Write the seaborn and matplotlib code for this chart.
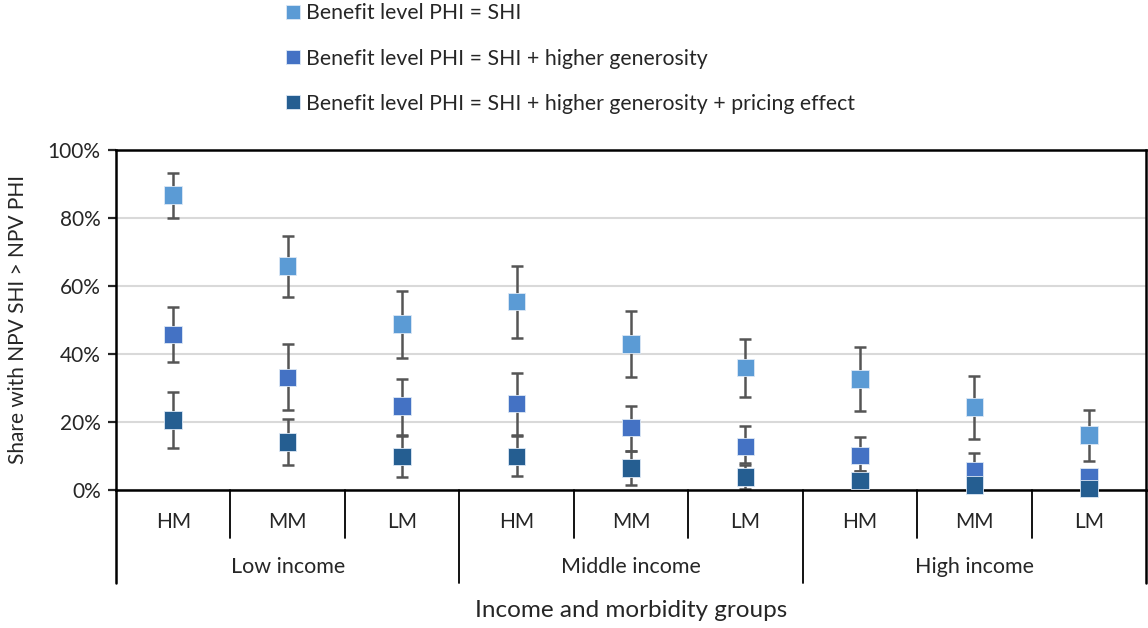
import matplotlib
matplotlib.use("Agg")
import matplotlib.pyplot as plt
import seaborn as sns
import numpy as np
import pandas as pd
from matplotlib.ticker import PercentFormatter

# 数据（从图中读取，单位：%）
income_groups = ["Low income", "Middle income", "High income"]
morbidity_groups = ["HM", "MM", "LM"]
series_names = [
    "Benefit level PHI = SHI",
    "Benefit level PHI = SHI + higher generosity",
    "Benefit level PHI = SHI + higher generosity + pricing effect",
]
colors = ["#5B9BD5", "#4472C4", "#255E91"]

phi_eq_shi = [86.8, 65.9, 48.8, 55.4, 43.0, 36.0, 32.6, 24.4, 16.2]
phi_eq_shi_low = [79.9, 56.9, 38.7, 44.7, 33.3, 27.4, 23.3, 15.0, 8.6]
phi_eq_shi_high = [93.3, 74.7, 58.6, 65.9, 52.6, 44.5, 42.0, 33.6, 23.6]

generosity = [45.7, 33.1, 24.7, 25.5, 18.4, 12.8, 10.1, 5.7, 3.8]
generosity_low = [37.7, 23.5, 15.9, 16.2, 11.6, 7.8, 5.6, 1.5, 1.0]
generosity_high = [53.7, 42.8, 32.7, 34.4, 24.8, 18.9, 15.5, 10.9, 6.0]

pricing = [20.6, 14.1, 9.8, 9.9, 6.4, 3.9, 2.8, 1.5, 0.5]
pricing_low = [12.5, 7.4, 3.7, 4.0, 1.6, 0.2, 0.2, 0.0, 0.0]
pricing_high = [28.8, 20.8, 16.2, 16.0, 11.6, 7.4, 5.6, 3.0, 2.0]

values = [phi_eq_shi, generosity, pricing]
lows = [phi_eq_shi_low, generosity_low, pricing_low]
highs = [phi_eq_shi_high, generosity_high, pricing_high]

# 类别键（收入组 + 发病组）
cat_keys = [f"{inc}|{mor}" for inc in income_groups for mor in morbidity_groups]

rows = []
for name, vals in zip(series_names, values):
    for key, v in zip(cat_keys, vals):
        rows.append({"group": key, "series": name, "share": v})
df = pd.DataFrame(rows)

sns.set_style("white")
plt.rcParams['font.family'] = ['Lato', 'DejaVu Sans']

fig = plt.figure(figsize=(11.48, 6.28), dpi=100)
ax = fig.add_axes([116 / 1148, (628 - 490) / 628, 1030 / 1148, 340 / 628])

# 误差线
for vals, lo, hi in zip(values, lows, highs):
    v = np.array(vals)
    yerr = np.vstack([v - np.array(lo), np.array(hi) - v])
    ax.errorbar(cat_keys, v, yerr=yerr, fmt='none', ecolor='#555555',
                elinewidth=1.8, capsize=4.5, capthick=1.8, zorder=2)

sns.scatterplot(data=df, x="group", y="share", hue="series", palette=colors,
                marker='s', s=160, linewidth=0.6, edgecolor='#DDE8F5',
                ax=ax, zorder=3, clip_on=False)

ax.set_xlim(-0.5, len(cat_keys) - 0.5)
ax.set_ylim(0, 100)
ax.set_yticks(np.arange(0, 101, 20))
ax.yaxis.set_major_formatter(PercentFormatter(decimals=0))
ax.tick_params(axis='y', labelsize=15, length=6, width=1.6, direction='out', left=True, pad=5)
ax.tick_params(axis='x', bottom=False, labelbottom=False)
ax.grid(axis='y', color='#D9D9D9', linewidth=1.5)
ax.set_axisbelow(True)
for sp in ax.spines.values():
    sp.set_color('black')
    sp.set_linewidth(1.8)

ax.set_xlabel("")
ax.set_ylabel("Share with NPV SHI > NPV PHI", fontsize=15)
ax.yaxis.set_label_coords(-0.085, 0.5)

# 多级x轴标签
trans = ax.get_xaxis_transform()
n_mor = len(morbidity_groups)
for i, key in enumerate(cat_keys):
    inc, mor = key.split('|')
    ax.text(i, -0.094, mor, transform=trans, ha='center', va='center', fontsize=15)
for i in range(1, len(cat_keys)):
    depth = -0.274 if i % n_mor == 0 else -0.141
    ax.plot([i - 0.5, i - 0.5], [0, depth], transform=trans, color='black',
            linewidth=1.3, clip_on=False)
for edge in [-0.5, len(cat_keys) - 0.5]:
    ax.plot([edge, edge], [0, -0.274], transform=trans, color='black',
            linewidth=1.8, clip_on=False)
for g, inc in enumerate(income_groups):
    ax.text(g * n_mor + (n_mor - 1) / 2, -0.226, inc, transform=trans,
            ha='center', va='center', fontsize=15.5)
ax.text(0.5, -0.354, "Income and morbidity groups", transform=ax.transAxes,
        ha='center', va='center', fontsize=17.5)

# 图例
handles, labels = ax.get_legend_handles_labels()
ax.legend_.remove()
fig.legend(handles, labels, loc='upper left', bbox_to_anchor=(272 / 1148, 1.008),
           frameon=False, fontsize=15.3, labelspacing=1.18, handletextpad=0.0,
           handlelength=1.2, borderaxespad=0.0, markerscale=0.85)

plt.savefig("out.png", dpi=100)
plt.close()
